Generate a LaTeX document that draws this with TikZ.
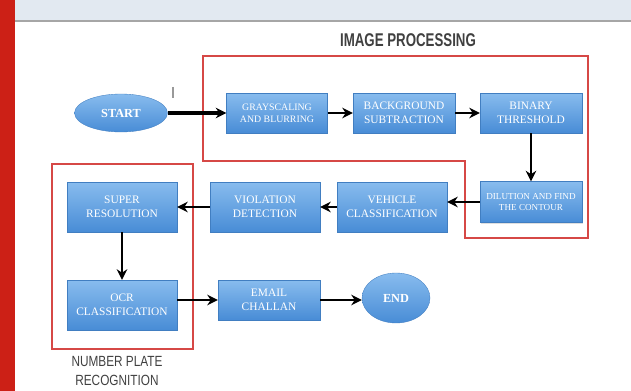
\documentclass[tikz,border=0pt]{standalone}
\usepackage{fontspec}
\setmainfont{Liberation Serif}
\newfontfamily\capfont{Liberation Sans}
\usetikzlibrary{shapes.geometric,shadows,arrows.meta}
\definecolor{barred}{RGB}{204,32,22}
\definecolor{headgray}{RGB}{226,233,241}
\definecolor{framered}{RGB}{214,72,70}
\definecolor{boxtop}{RGB}{136,188,238}
\definecolor{boxbot}{RGB}{72,140,214}

\begin{document}
\begin{tikzpicture}[x=0.02cm, y=-0.02cm,
  procbox/.style={rectangle, top color=boxtop, bottom color=boxbot, draw=boxbot!90!black, line width=0.2pt,
    text=white, align=center, inner sep=1pt, font=\fontsize{6.5}{7.8}\selectfont,
    drop shadow={opacity=0.25, shadow xshift=0.4pt, shadow yshift=-0.8pt}},
  termnode/.style={ellipse, top color=boxtop, bottom color=boxbot, draw=boxbot!90!black, line width=0.2pt,
    text=white, inner sep=0pt, font=\bfseries\fontsize{7}{8}\selectfont},
  flow/.style={-{Stealth[length=6pt,width=6pt]}, line width=1.3pt},
  frame/.style={draw=framered, line width=1.2pt},
  caption/.style={text=black!75, align=center}]

\useasboundingbox (0,0) rectangle (631,391);
\fill[barred] (0,0) rectangle (15,391);
\fill[headgray] (15,0) rectangle (631,20);
\draw[black!35, line width=0.8pt] (15,21) -- (631,21);

% image processing block
\draw[frame] (203,56) -- (588,56) -- (588,238) -- (465,238) -- (465,161) -- (203,161) -- cycle;
\node[caption, font=\capfont\bfseries\fontsize{10.5}{12}\selectfont, xscale=0.72] (imgcap) at (408,40) {IMAGE PROCESSING};

% number plate block
\draw[frame] (52,164) rectangle (193,349);
\node[caption, font=\capfont\fontsize{8.4}{10.8}\selectfont, xscale=0.8] (npcap) at (117,371) {NUMBER PLATE\\RECOGNITION};

\draw[black!40, line width=0.8pt] (173,87) -- (173,98);

\node[termnode, minimum width=1.86cm, minimum height=0.76cm] (start) at (121,113) {START};
\node[procbox, minimum width=2.02cm, minimum height=0.8cm, font=\fontsize{5.6}{7}\selectfont] (gray) at (277,113) {GRAYSCALING\\AND BLURRING};
\node[procbox, minimum width=2.04cm, minimum height=0.8cm] (bgsub) at (404,113) {BACKGROUND\\SUBTRACTION};
\node[procbox, minimum width=2.04cm, minimum height=0.8cm] (binth) at (531,113) {BINARY\\THRESHOLD};
\node[procbox, minimum width=2.04cm, minimum height=0.82cm, font=\fontsize{5.2}{6.8}\selectfont] (dilute) at (531,202) {DILUTION AND FIND\\THE CONTOUR};
\node[procbox, minimum width=2.2cm, minimum height=1.0cm] (vehicle) at (392,207) {VEHICLE\\CLASSIFICATION};
\node[procbox, minimum width=2.2cm, minimum height=1.0cm] (violate) at (265,207) {VIOLATION\\DETECTION};
\node[procbox, minimum width=2.2cm, minimum height=1.0cm] (superres) at (122,207) {SUPER\\RESOLUTION};
\node[procbox, minimum width=2.2cm, minimum height=1.0cm] (ocr) at (122,305) {OCR\\CLASSIFICATION};
\node[procbox, minimum width=2.04cm, minimum height=0.8cm] (email) at (269,300) {EMAIL\\CHALLAN};
\node[termnode, minimum width=1.36cm, minimum height=1.0cm] (finish) at (396,298) {END};

\draw[flow, line width=2pt] (start) -- (gray);
\draw[flow] (gray) -- (bgsub);
\draw[flow] (bgsub) -- (binth);
\draw[flow] (binth) -- (dilute);
\draw[flow] (dilute) -- (dilute -| vehicle.east);
\draw[flow] (vehicle) -- (violate);
\draw[flow] (violate) -- (superres);
\draw[flow] (superres) -- (ocr);
\draw[flow] (ocr.east |- email) -- (email);
\draw[flow] (email) -- (email -| finish.west);

\end{tikzpicture}
\end{document}
